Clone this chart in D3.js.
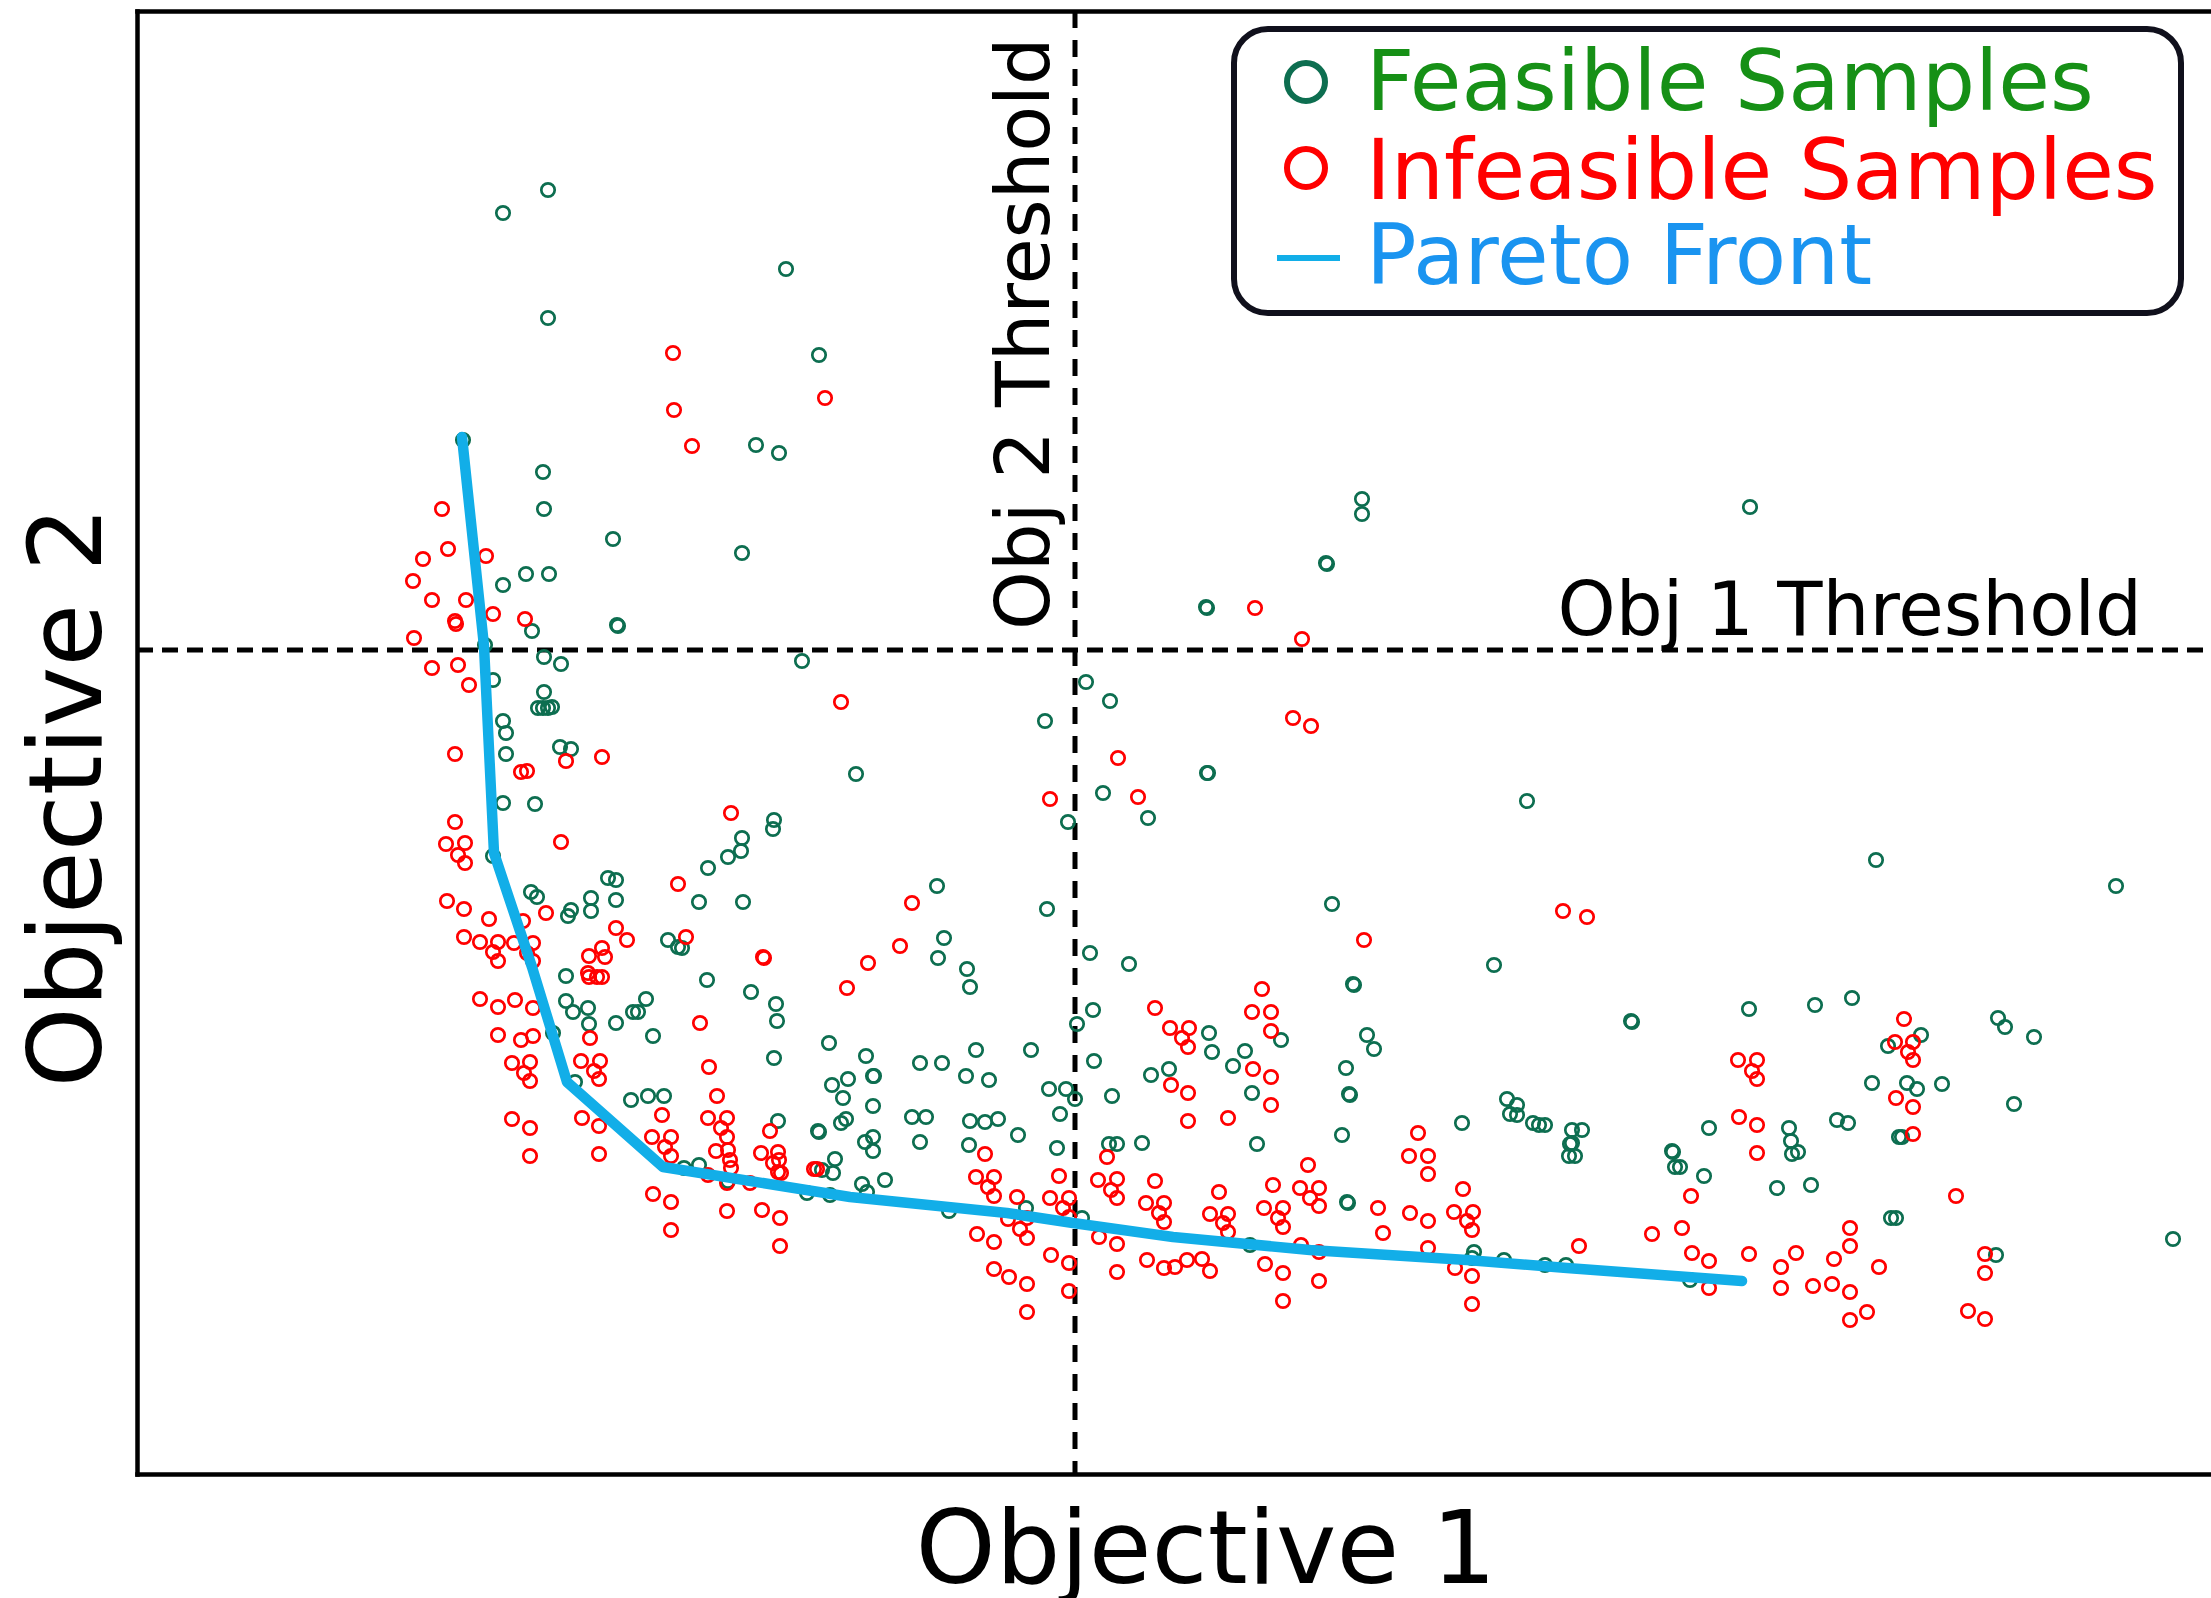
<!DOCTYPE html>
<html>
<head>
<meta charset="utf-8">
<script src="https://cdn.jsdelivr.net/npm/d3@7"></script>
<style>
  body { margin: 0; background: #fff; }
  svg { display: block; font-family: "DejaVu Sans", Verdana, sans-serif; }
</style>
</head>
<body>
<div id="chart"></div>
<script>
// Step 1: data (objective 1, objective 2)
//= ================================
var feasible = [
  [411,1284],[366,1261],[649,1205],[411,1156],[682,1119],[326,1034],[619,1029],[642,1021],[406,1002],
  [1225,975],[1225,960],[1613,967],
  [407,965],[476,935],[605,921],[389,900],[412,900],[366,889],[480,849],[481,848],[395,843],[348,829],
  [407,817],[424,810],[665,813],[356,794],[407,782],[401,766],[406,766],[411,766],[415,767],[366,753],
  [369,741],[369,720],[423,727],[434,725],[719,700],[366,671],[398,670],[637,654],[636,645],[605,636],[604,623],
  [1189,911],[1190,910],[1069,867],[1070,866],[949,792],[973,773],[908,753],[1070,701],[1071,701],
  [966,681],[1390,673],[1011,656],[931,652],
  [356,618],[394,582],[400,577],[431,558],[434,564],[454,576],[454,563],[471,596],[479,594],[479,574],
  [562,572],[571,606],[591,617],[606,572],[531,534],[541,527],[545,526],[429,498],[570,494],[614,482],
  [639,470],[640,453],[429,473],[436,462],[451,466],[452,450],[509,475],[496,462],[501,462],[479,451],
  [516,438],[416,441],[438,392],[692,431],[637,416],[695,389],[706,376],[711,395],[704,351],[709,355],
  [494,374],[511,378],[527,378],[641,353],[681,343],[682,342],[685,304],[698,315],[696,301],[547,306],
  [562,309],[591,293],[670,281],[693,279],
  [800,588],[807,536],[801,516],[830,505],[833,487],[910,565],[953,521],[992,510],[956,464],[940,450],
  [1072,441],[1075,422],[1144,434],[1108,423],[1096,408],[1032,405],[1014,399],[1115,381],[1120,330],
  [894,424],[839,424],[729,418],[783,411],[805,411],[736,398],[737,398],[829,398],[852,394],[736,368],
  [912,385],[929,385],[938,375],[957,413],[923,360],[975,378],[775,357],[789,357],[833,353],[848,352],
  [861,355],[881,339],[728,332],[736,337],[736,323],[783,332],[832,329],[920,326],[972,330],[980,330],
  [1005,331],[725,290],[730,282],[748,294],[812,263],[889,266],[945,256],[1113,229],
  [1195,570],[1357,509],[1216,490],[1217,489],[1612,465],[1494,453],[1495,452],[1230,439],[1237,425],
  [1209,406],[1212,380],[1213,379],[1205,339],[1325,351],[1370,375],[1380,369],[1373,360],[1380,359],
  [1396,351],[1402,349],[1408,349],[1435,344],[1445,344],[1433,330],[1435,331],[1432,318],[1438,318],
  [1535,323],[1536,322],[1538,307],[1543,307],[1572,346],[1567,298],[1210,272],[1211,271],[1337,222],
  [1335,216],[1367,214],[1408,209],[1429,209],[1553,194],
  [1739,614],[1979,588],[1678,469],[1715,476],[1784,439],[1751,428],[1861,456],[1868,447],[1897,437],
  [1735,391],[1770,391],[1780,385],[1805,390],[1877,370],[1700,354],[1711,351],[1652,346],[1654,333],
  [1655,320],[1661,322],[1762,337],[1765,337],[1640,286],[1674,289],[1754,256],[1759,256],[2036,235],
  [1859,219]
];

var infeasible = [
  [536,1121],[688,1076],[537,1064],[555,1028],
  [305,965],[311,925],[286,915],[349,918],[276,893],[295,874],[329,874],[356,860],[318,853],[319,850],
  [388,855],[277,836],[295,806],[321,809],[332,789],[704,772],[318,720],[429,713],[465,717],[384,702],
  [390,703],[594,661],[318,652],[309,630],[328,631],[424,632],
  [1118,866],[1165,835],[1156,756],[1174,748],[981,716],[913,675],[1001,677],
  [321,619],[328,611],[310,573],[327,565],[352,555],[386,553],[409,561],[541,590],[327,537],[343,532],
  [361,532],[356,522],[361,513],[377,531],[396,531],[390,521],[396,513],[479,546],[490,534],[452,518],
  [465,526],[468,517],[451,501],[452,497],[460,497],[465,497],[549,537],[626,517],[627,516],[710,486],
  [343,475],[361,467],[378,474],[396,466],[563,451],[361,439],[384,434],[396,438],[453,436],[375,411],
  [393,412],[387,401],[393,393],[444,413],[463,413],[457,403],[462,395],[572,407],[580,378],[525,359],
  [375,355],[393,346],[445,356],[462,348],[571,356],[590,356],[584,346],[590,337],[633,343],[515,337],
  [534,337],[528,327],[534,318],[393,318],[462,320],[579,323],[591,324],[593,314],[594,306],[624,321],
  [641,322],[636,311],[642,314],[641,302],[644,301],[677,305],[680,305],[571,299],[590,291],[613,291],
  [516,280],[534,272],[534,244],[590,263],[625,264],[643,256],[643,228],
  [775,571],[763,528],[731,511],[1018,466],[1033,446],[1052,446],[1045,436],[1051,427],[1125,485],
  [1115,462],[1134,462],[1134,443],[1034,389],[1051,381],[1116,405],[1134,397],[1134,369],[1051,353],
  [1091,356],[848,320],[970,317],[839,297],[857,297],[851,287],[857,278],[922,298],[880,277],[913,276],
  [932,276],[926,266],[932,257],[871,255],[890,256],[883,245],[890,236],[961,294],[980,295],[974,284],
  [980,276],[1018,293],[1009,271],[1027,271],[1022,261],[1027,252],[1082,282],[1073,260],[1091,260],
  [1086,251],[1091,242],[1136,289],[1127,266],[1146,266],[1141,256],[1146,247],[1163,286],[1171,309],
  [1173,276],[840,240],[857,232],[962,237],[980,230],[1164,229],[914,219],[932,211],[857,205],[872,197],
  [890,190],[932,183],[890,162],[1010,214],[1027,206],[1038,207],[1050,214],[1065,215],[1073,203],
  [980,202],[1128,210],[1146,201],[1146,173],
  [1227,534],[1426,563],[1450,557],[1601,414],[1620,414],[1615,403],[1620,395],[1602,357],[1620,349],
  [1620,321],[1281,341],[1272,318],[1291,318],[1291,300],[1182,286],[1182,268],[1241,266],[1246,241],
  [1273,261],[1291,253],[1326,285],[1317,262],[1336,262],[1330,253],[1335,244],[1182,222],[1182,193],
  [1291,226],[1318,206],[1335,198],[1335,170],[1442,228],[1515,240],[1545,246],[1554,278],[1555,221],
  [1572,213],[1612,220],[1572,186],
  [1767,455],[1758,432],[1776,432],[1771,422],[1776,414],[1759,376],[1776,367],[1776,340],[1819,278],
  [1713,246],[1713,228],[1659,221],[1697,215],[1644,207],[1742,207],[1848,220],[1848,201],[1644,186],
  [1676,188],[1695,190],[1713,182],[1730,162],[1713,154],[1831,163],[1848,155]
];

var paretoFront = [
  [325,1037],[347,828],[357,621],[395,507],[430,392],[526,307],[713,277],[870,261],
  [936,251],[1036,237],[1173,224],[1330,214],[1430,206],[1605,193]
];

var obj1Threshold = 824;   // horizontal dashed line (objective 2 value)
var obj2Threshold = 938;   // vertical dashed line (objective 1 value)
var legendLabels = ["Feasible Samples", "Infeasible Samples", "Pareto Front"];

var greenMark = "#0d6e50";
var redMark = "#ff0000";
var paretoColor = "#12aee8";

// Step 2: set up the chart
//= ================================
var svgWidth = 2211;
var svgHeight = 1598;
var margin = {top: 11, right: 0, bottom: 124, left: 137};
var width = svgWidth - margin.left - margin.right;
var height = svgHeight - margin.top - margin.bottom;

var svg = d3.select("#chart")
  .append("svg")
  .attr("width", svgWidth)
  .attr("height", svgHeight);

var chartGroup = svg.append("g")
  .attr("transform", `translate(${margin.left}, ${margin.top})`);

var xScale = d3.scaleLinear().domain([0, 2074]).range([0, width]);
var yScale = d3.scaleLinear().domain([0, 1463]).range([height, 0]);

// threshold lines
chartGroup.append("line")
  .attr("x1", 0).attr("x2", width)
  .attr("y1", yScale(obj1Threshold)).attr("y2", yScale(obj1Threshold))
  .attr("stroke", "#000").attr("stroke-width", 5)
  .attr("stroke-dasharray", "16,9");

chartGroup.append("line")
  .attr("x1", xScale(obj2Threshold)).attr("x2", xScale(obj2Threshold))
  .attr("y1", 0).attr("y2", height)
  .attr("stroke", "#000").attr("stroke-width", 5)
  .attr("stroke-dasharray", "17,12");

// samples
chartGroup.selectAll(".feasible")
  .data(feasible)
  .enter()
  .append("circle")
  .attr("class", "feasible")
  .attr("cx", d => xScale(d[0]))
  .attr("cy", d => yScale(d[1]))
  .attr("r", 6.7)
  .attr("fill", "none")
  .attr("stroke", greenMark)
  .attr("stroke-width", 2.7);

chartGroup.selectAll(".infeasible")
  .data(infeasible)
  .enter()
  .append("circle")
  .attr("class", "infeasible")
  .attr("cx", d => xScale(d[0]))
  .attr("cy", d => yScale(d[1]))
  .attr("r", 6.7)
  .attr("fill", "none")
  .attr("stroke", redMark)
  .attr("stroke-width", 2.7);

// pareto front
var line = d3.line()
  .x(d => xScale(d[0]))
  .y(d => yScale(d[1]));

chartGroup.append("path")
  .datum(paretoFront)
  .attr("d", line)
  .attr("fill", "none")
  .attr("stroke", paretoColor)
  .attr("stroke-width", 10.5)
  .attr("stroke-linejoin", "round")
  .attr("stroke-linecap", "round");

// axes, no ticks
var bottomAxis = chartGroup.append("g")
  .attr("transform", `translate(0, ${height})`)
  .call(d3.axisBottom(xScale).tickValues([]).tickSizeOuter(0));
var leftAxis = chartGroup.append("g")
  .call(d3.axisLeft(yScale).tickValues([]).tickSizeOuter(0));
var topAxis = chartGroup.append("g")
  .call(d3.axisTop(xScale).tickValues([]).tickSizeOuter(0));
chartGroup.selectAll(".domain")
  .attr("stroke", "#000")
  .attr("stroke-width", 4.5)
  .attr("stroke-linecap", "square");

// threshold labels
chartGroup.append("text")
  .attr("x", 2005)
  .attr("y", 624)
  .attr("text-anchor", "end")
  .style("font-size", "74px")
  .text("Obj 1 Threshold");

chartGroup.append("text")
  .attr("transform", "translate(912, 619) rotate(-90)")
  .attr("text-anchor", "start")
  .style("font-size", "75px")
  .text("Obj 2 Threshold");

// axis labels
svg.append("text")
  .attr("x", 1206)
  .attr("y", 1583)
  .attr("text-anchor", "middle")
  .style("font-size", "102px")
  .text("Objective 1");

svg.append("text")
  .attr("transform", "translate(101, 797) rotate(-90)")
  .attr("text-anchor", "middle")
  .style("font-size", "102px")
  .text("Objective 2");

// legend
var legend = svg.append("g");
legend.append("rect")
  .attr("x", 1234).attr("y", 29)
  .attr("width", 947).attr("height", 284)
  .attr("rx", 34).attr("ry", 34)
  .attr("fill", "#fff")
  .attr("stroke", "#10101c")
  .attr("stroke-width", 6);

var legendColors = ["#169016", "#ff0000", "#1a94f0"];
var legendBaselines = [110, 199, 284];

legend.append("circle")
  .attr("cx", 1306).attr("cy", 82).attr("r", 19)
  .attr("fill", "none").attr("stroke", greenMark).attr("stroke-width", 6);
legend.append("circle")
  .attr("cx", 1306).attr("cy", 168).attr("r", 19)
  .attr("fill", "none").attr("stroke", redMark).attr("stroke-width", 6);
legend.append("line")
  .attr("x1", 1277).attr("x2", 1340)
  .attr("y1", 258).attr("y2", 258)
  .attr("stroke", paretoColor).attr("stroke-width", 6);

legend.selectAll(".legend-text")
  .data(legendLabels)
  .enter()
  .append("text")
  .attr("class", "legend-text")
  .attr("x", 1366)
  .attr("y", (d, i) => legendBaselines[i])
  .attr("fill", (d, i) => legendColors[i])
  .style("font-size", "84px")
  .text(d => d);
</script>
</body>
</html>
